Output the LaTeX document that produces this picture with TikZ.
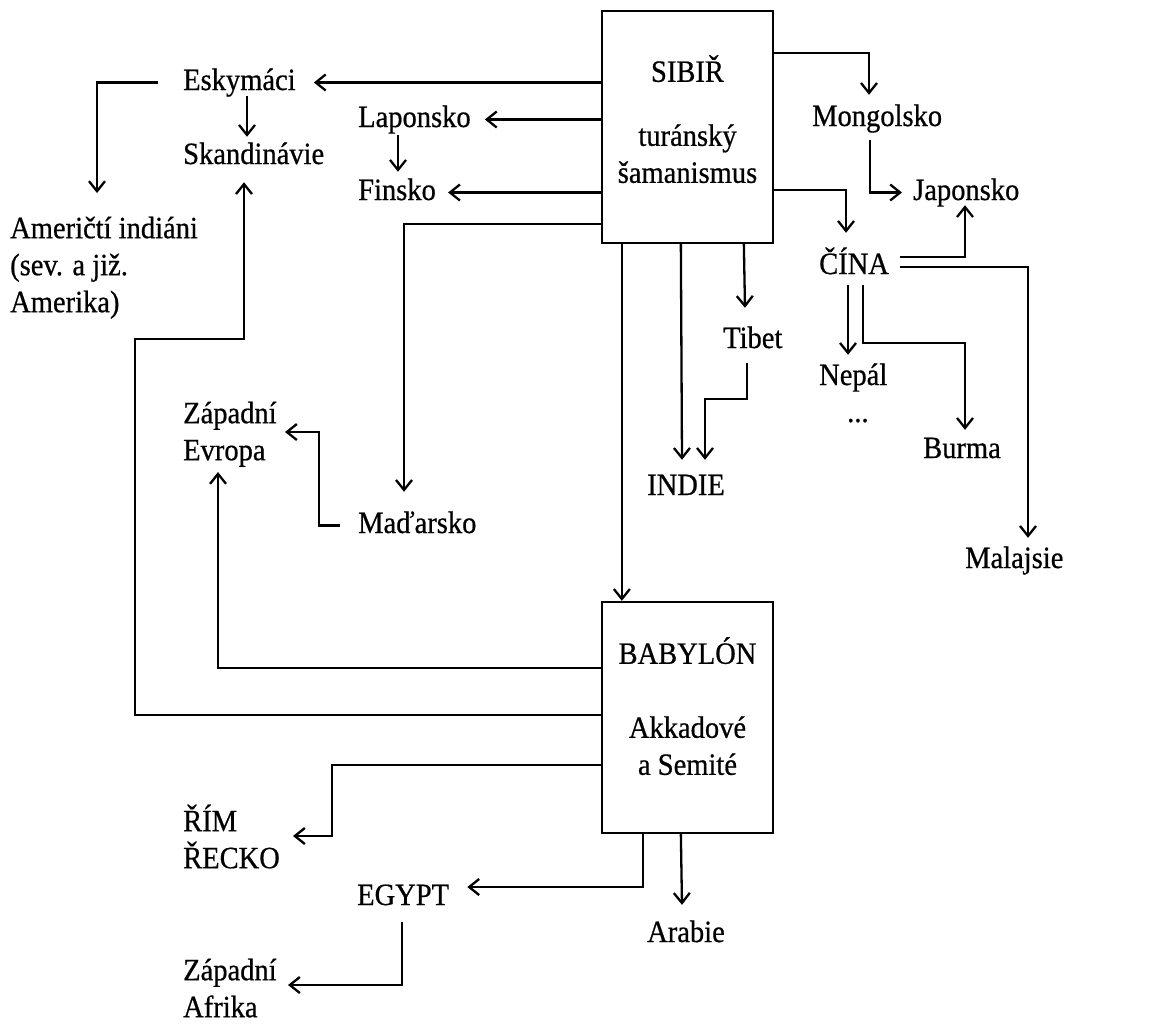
\documentclass[tikz,border=0pt]{standalone}
\usepackage{fontspec}
\setmainfont{Liberation Serif}[FakeStretch=0.92,FakeBold=0.6]
\usetikzlibrary{arrows.meta,calc}
\begin{document}
\begin{tikzpicture}[x=1pt,y=-1pt,
  every node/.style={font=\fontsize{31}{37}\selectfont},
  box/.style={draw,line width=2.3pt,inner sep=0pt,minimum width=171pt,align=center},
  lbl/.style={inner sep=0pt,anchor=base west,text height=21pt,text depth=6pt},
  ml/.style={inner sep=0pt,anchor=north west,align=left},
  arr/.style={line width=2.3pt,-{Straight Barb[length=10pt,width=16pt]}}]
\useasboundingbox (0,0) rectangle (1151,1023);

% boxes
\node[box,minimum height=232pt] (sib) at (687.5,127)
  {SIBIŘ\\[27pt]turánský\\šamanismus\rule[-16pt]{0pt}{16pt}};
\node[box,minimum height=231pt] (bab) at (687.5,717.5)
  {BABYLÓN\\[37pt]Akkadové\\a Semité\rule[-23pt]{0pt}{23pt}};

% single-line labels
\node[lbl] (esk) at (183,90) {Eskymáci};
\node[lbl] (skand) at (183,164) {Skandinávie};
\node[lbl] (lap) at (358,127) {Laponsko};
\node[lbl] (fin) at (358,200) {Finsko};
\node[lbl] (mad) at (358,533) {Maďarsko};
\node[lbl] (mon) at (812,126) {Mongolsko};
\node[lbl] (jap) at (913,200) {Japonsko};
\node[lbl] (cin) at (819,274) {ČÍNA};
\node[lbl] (tib) at (723,348) {Tibet};
\node[lbl] (nep) at (819,385) {Nepál};
\node[lbl] (dots) at (847,422) {...};
\node[lbl] (bur) at (923,458) {Burma};
\node[lbl] (ind) at (647,495) {INDIE};
\node[lbl] (mal) at (965,568) {Malajsie};
\node[lbl] (egy) at (357,905) {EGYPT};
\node[lbl] (arab) at (647,942) {Arabie};

% multi-line labels
\node[ml] (amer) at (10,208) {\rule{0pt}{30pt}Američtí indiáni\\(sev. a již.\\Amerika)};
\node[ml] (zev) at (183,393) {\rule{0pt}{30pt}Západní\\Evropa};
\node[ml] (rim) at (183,801) {\rule{0pt}{30pt}ŘÍM\\ŘECKO};
\node[ml] (zaf) at (183,950) {\rule{0pt}{30pt}Západní\\Afrika};

% bend points
\coordinate (bA) at (135,339);
\coordinate (bB) at (319,432);
\coordinate (bC) at (332,836);
\coordinate (bD) at (705,399);
\coordinate (bE) at (965,343);

% connectors from SIBIR
\draw[arr] (sib.west |- esk.east) -- ([xshift=18pt]esk.east);
\draw[arr] (sib.west |- lap.east) -- ([xshift=14pt]lap.east);
\draw[arr] (sib.west |- fin.east) -- ([xshift=12pt]fin.east);
\draw[arr] ($(sib.south west)+(0,-20)$) -| ($(mad.north west)+(46,-20)$);
\draw[arr] ($(sib.south west)+(21,0)$) -- ($(bab.north west)+(21,0)$);
\draw[arr] ($(sib.south west)+(80,0)$) -- ($(ind.north west)+(35,-14)$);
\draw[arr] ($(sib.south west)+(143,0)$) -- ($(tib.north west)+(22,-19)$);
\draw[arr] ($(sib.north east)+(0,43)$) -| ($(mon.north west)+(57,-10)$);
\draw[arr] ($(sib.north east)+(0,180)$) -| ($(cin.north west)+(27,-20)$);

% secondary connectors (north)
\draw[arr] ($(esk.south west)+(64,0)$) -- ($(skand.north west)+(64,-6)$);
\draw[arr] ([xshift=-25pt]esk.west) -| ($(amer.north west)+(87,-15)$);
\draw[arr] ($(lap.south west)+(40,2)$) -- ($(fin.north west)+(40,-7)$);
\draw[arr] ([xshift=-18pt]mad.west) -| (bB) -- ($(zev.north west)+(102,39)$);
\draw[arr] ($(tib.south west)+(24,9)$) |- (bD) -- ($(ind.north west)+(58,-14)$);
\draw[arr] ($(mon.south west)+(58,8)$) |- ([xshift=-11pt]jap.west);
\draw[arr] ($(cin.east)+(11,-9.5)$) -| ($(jap.south west)+(52,-1)$);
\draw[arr] ($(cin.east)+(11,0.5)$) -| ($(mal.north west)+(63,-9)$);
\draw[arr] ($(cin.south west)+(29,5)$) -- ($(nep.north west)+(29,-9)$);
\draw[arr] ($(cin.south west)+(44,5)$) |- (bE) -- ($(bur.north west)+(42,-7)$);

% connectors from BABYLON
\draw[arr] ($(bab.west)+(0,-49.5)$) -| ($(zev.north west)+(35,79)$);
\draw[arr] ($(bab.west)+(0,-2.5)$) -| (bA) -| ($(skand.south west)+(61,12)$);
\draw[arr] ($(bab.west)+(0,47.5)$) -| (bC) -- ($(rim.north west)+(110,35)$);
\draw[arr] ($(bab.south west)+(42,0)$) |- ($(egy.east)+(18,-10.5)$);
\draw[arr] ($(bab.south west)+(80,0)$) -- ($(arab.north west)+(35,-16)$);
\draw[arr] ($(egy.south west)+(45,11)$) |- ($(zaf.north west)+(105,35)$);
\end{tikzpicture}
\end{document}
